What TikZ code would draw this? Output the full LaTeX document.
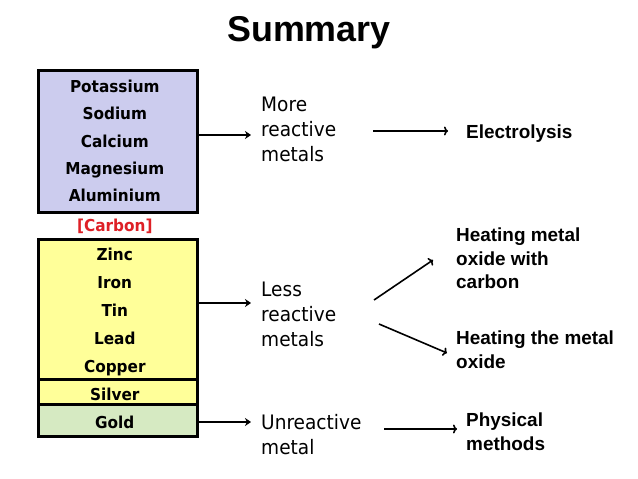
\documentclass[tikz,border=0pt]{standalone}
\usepackage{fontspec}
\setmainfont{Liberation Sans}
\newfontfamily\tah[FakeStretch=0.93]{DejaVu Sans}
\usetikzlibrary{arrows.meta}
\definecolor{purp}{RGB}{204,204,238}
\definecolor{yell}{RGB}{255,255,153}
\definecolor{grn}{RGB}{214,234,194}
\definecolor{carb}{RGB}{222,32,38}
\begin{document}
\begin{tikzpicture}[x=1bp,y=-1bp,
  box/.style={draw=black, line width=3bp, inner sep=0, minimum width=158bp},
  metal/.style={font=\tah\bfseries\fontsize{16.5}{20}\selectfont, inner sep=0, anchor=base},
  lbl/.style={font=\tah\fontsize{20}{25}\selectfont, align=left, inner sep=0, anchor=base west},
  meth/.style={font=\bfseries\fontsize{19}{23.5}\selectfont, align=left, inner sep=0, anchor=base west},
  bigarr/.style={line width=2.8bp, -{Stealth[length=6bp,width=8bp]}},
  smallarr/.style={line width=1.6bp, -{To[length=4bp,width=9bp]}}
]
\useasboundingbox (0,0) rectangle (638,479);
\fill[white] (0,0) rectangle (638,479);

% title
\node[font=\bfseries\fontsize{36}{40}\selectfont, anchor=base, inner sep=0] (title) at (309,41.7) {Summary};

% boxes
\node[box, fill=purp, minimum height=141bp] (top) at (118,141.5) {};
\node[box, fill=yell, minimum height=139bp] (mid) at (118,309.5) {};
\node[box, fill=yell, minimum height=25bp] (silverbox) at (118,391.5) {};
\node[box, fill=grn, minimum height=32bp] (goldbox) at (118,420) {};

% metals
\node[metal] (k)  at (114.8,92.5)  {Potassium};
\node[metal] (na) at (114.8,119.8) {Sodium};
\node[metal] (ca) at (114.8,147.1) {Calcium};
\node[metal] (mg) at (114.8,174.4) {Magnesium};
\node[metal] (al) at (114.8,201.7) {Aluminium};
\node[metal, text=carb] (c) at (114.8,231.7) {[Carbon]};
\node[metal] (zn) at (114.8,260)   {Zinc};
\node[metal] (fe) at (114.8,288)   {Iron};
\node[metal] (sn) at (114.8,316.2) {Tin};
\node[metal] (pb) at (114.8,344.4) {Lead};
\node[metal] (cu) at (114.8,372.6) {Copper};
\node[metal] (ag) at (114.8,400)   {Silver};
\node[metal] (au) at (114.8,428.3) {Gold};

% reactivity labels (anchored at the baseline of the last line)
\node[lbl] (more) at (261,161.7) {More\\reactive\\metals};
\node[lbl] (less) at (261,346.7) {Less\\reactive\\metals};
\node[lbl] (unre) at (261,454.5) {Unreactive\\metal};

% methods
\node[meth] (elec)  at (466,138.3) {Electrolysis};
\node[meth] (heat1) at (456,288.7) {Heating metal\\oxide with\\carbon};
\node[meth] (heat2) at (456,368.3) {Heating the metal\\oxide};
\node[meth] (phys)  at (466,450.3) {Physical\\methods};

% box arrows
\coordinate (a1) at (251,135);
\coordinate (a2) at (251,303);
\coordinate (a3) at (251,422);
\draw[bigarr] (top.east |- a1) -- (a1);
\draw[bigarr] (mid.east |- a2) -- (a2);
\draw[bigarr] (goldbox.east |- a3) -- (a3);

% method arrows
\coordinate (e1s) at (373,131);
\coordinate (e1e) at (448,131);
\coordinate (h1s) at (374,300);
\coordinate (h1e) at (433,260);
\coordinate (h2s) at (379,324);
\coordinate (h2e) at (447,353);
\coordinate (p1s) at (384,429);
\coordinate (p1e) at (457,429);
\draw[smallarr] (e1s) -- (e1e);
\draw[smallarr] (h1s) -- (h1e);
\draw[smallarr] (h2s) -- (h2e);
\draw[smallarr] (p1s) -- (p1e);
\end{tikzpicture}
\end{document}
